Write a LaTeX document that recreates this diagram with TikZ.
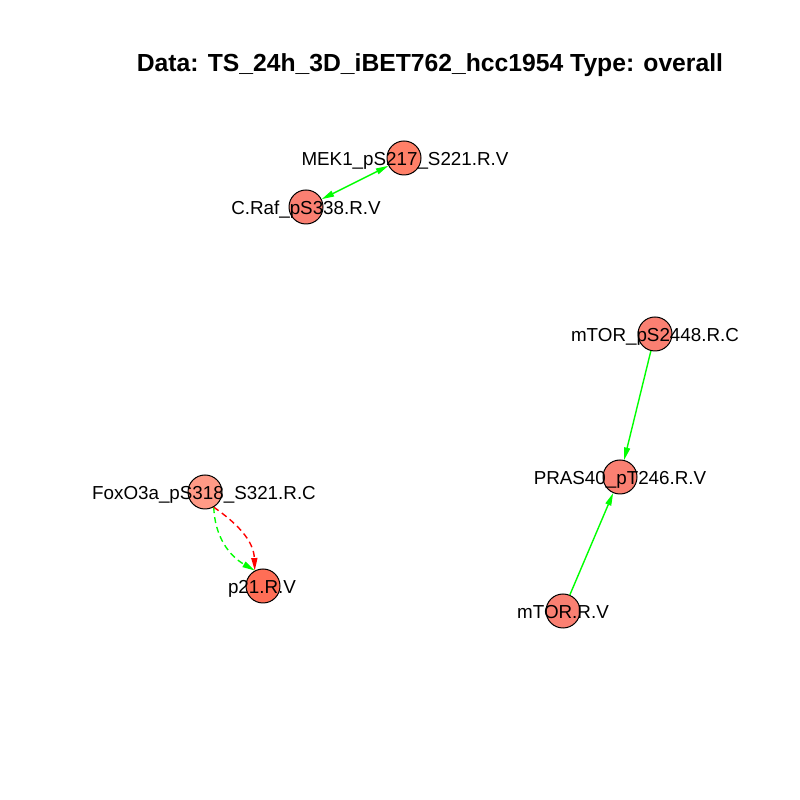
\documentclass[tikz,border=0pt]{standalone}
\usepackage{fontspec}
\setmainfont{Liberation Sans}
\usetikzlibrary{arrows.meta}
\definecolor{sal}{HTML}{FA8072}
\definecolor{sallight}{HTML}{FF9A86}
\definecolor{saldark}{HTML}{FF6E56}
\definecolor{salmid}{HTML}{FF8068}
\definecolor{egreen}{HTML}{00FF00}
\definecolor{ered}{HTML}{FF0000}
\tikzset{
  vert/.style={circle, draw=black, line width=1pt, minimum size=34pt, inner sep=0pt},
  vlabel/.style={anchor=base, inner sep=0pt, font=\fontsize{18.8pt}{20pt}\selectfont},
  edge/.style={line width=1.4pt, -{Triangle[length=12.5pt,width=6pt]}},
  dedge/.style={line width=1.4pt, {Triangle[length=12.5pt,width=6pt]}-{Triangle[length=12.5pt,width=6pt]}},
  dash6/.style={dash pattern=on 6pt off 4pt}
}
\begin{document}
\begin{tikzpicture}[x=1pt,y=1pt]
\useasboundingbox (0,0) rectangle (800,800);
\fill[white] (0,0) rectangle (800,800);
% title
\node[anchor=base, inner sep=0pt, font=\bfseries\fontsize{24.7pt}{26pt}\selectfont] (title) at (430,728) {Data: TS\_24h\_3D\_iBET762\_hcc1954 Type: overall};
% vertices
\node[vert, fill=salmid] (mek) at (404,642) {};
\node[vert, fill=sal] (craf) at (306,593) {};
\node[vert, fill=sal] (mtorp) at (655,466) {};
\node[vert, fill=sal] (pras) at (620,323) {};
\node[vert, fill=sal] (mtor) at (563,189) {};
\node[vert, fill=sallight] (fox) at (205,308) {};
\node[vert, fill=saldark] (p21) at (263,214) {};
% edges
\draw[dedge, egreen] (craf) -- (mek);
\draw[edge, egreen] (mtorp) -- (pras);
\draw[edge, egreen] (mtor) -- (pras);
\draw[edge, egreen, dash6] (fox.-60) to[out=-88, in=150] (p21.118);
\draw[edge, ered, dash6] (fox.-60) to[out=-35, in=92] (p21.118);
% labels
\node[vlabel] (mek-l) at (405,634) {MEK1\_pS217\_S221.R.V};
\node[vlabel] (craf-l) at (306,585) {C.Raf\_pS338.R.V};
\node[vlabel] (mtorp-l) at (655,458) {mTOR\_pS2448.R.C};
\node[vlabel] (pras-l) at (620,315) {PRAS40\_pT246.R.V};
\node[vlabel] (mtor-l) at (563,181) {mTOR.R.V};
\node[vlabel] (fox-l) at (204,300) {FoxO3a\_pS318\_S321.R.C};
\node[vlabel] (p21-l) at (262,206) {p21.R.V};
\end{tikzpicture}
\end{document}
